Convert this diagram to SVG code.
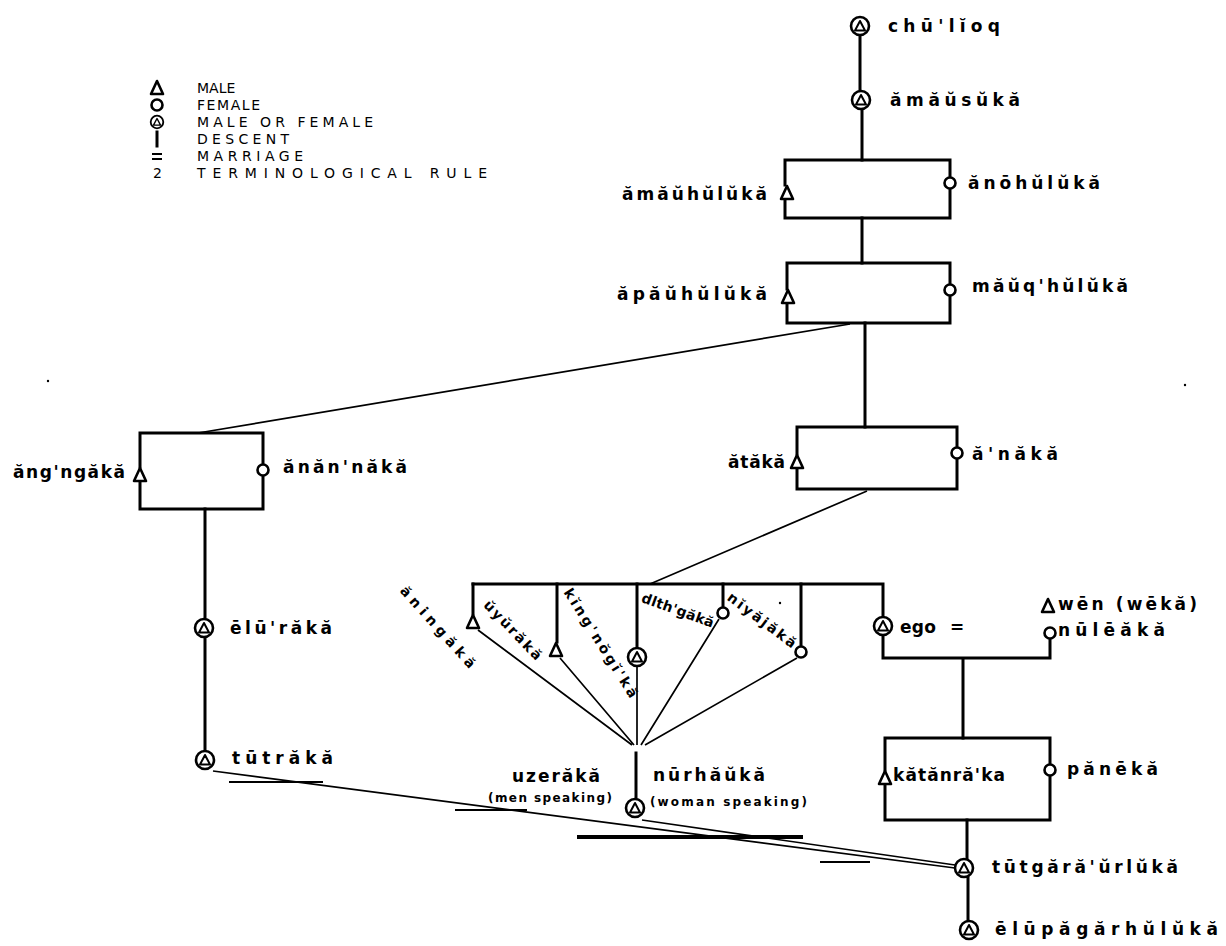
<svg xmlns="http://www.w3.org/2000/svg" width="1226" height="946" viewBox="0 0 1226 946">
<style>
.ln{stroke:#000;stroke-width:3;fill:none;stroke-linecap:square}
.th{stroke:#000;stroke-width:1.7;fill:none}
.ar{stroke:#000;fill:none}
.t{font-family:"DejaVu Sans",sans-serif;font-size:17px;font-weight:bold;fill:#000}
.s{font-family:"DejaVu Sans",sans-serif;font-size:14px;font-weight:bold;fill:#000}
.sm{font-family:"DejaVu Sans",sans-serif;font-size:12px;font-weight:bold;fill:#000}
.lg{font-family:"DejaVu Sans",sans-serif;font-size:14px;fill:#000}
</style>
<defs>
<path id="tri" d="M0,-7 L6,6 L-6,6 Z" stroke="#000" stroke-width="2.6" fill="#fff" stroke-linejoin="round"/>
<circle id="cir" r="5.5" stroke="#000" stroke-width="2.6" fill="#fff"/>
<g id="mf"><circle r="9" stroke="#000" stroke-width="2.6" fill="#fff"/><path d="M0,-5 L5,4.5 L-5,4.5 Z" fill="none" stroke="#000" stroke-width="2" stroke-linejoin="round"/></g>
</defs>
<rect width="1226" height="946" fill="#fff"/>

<g id="legend">
<use href="#tri" x="157" y="88"/>
<text class="lg" x="197" y="93">MALE</text>
<use href="#cir" x="157" y="105"/>
<text class="lg" x="197" y="110" textLength="63">FEMALE</text>
<g transform="translate(157,122) scale(0.7)"><use href="#mf"/></g>
<text class="lg" x="197" y="127" textLength="176">MALE OR FEMALE</text>
<path d="M157,132 V146" class="ln"/>
<text class="lg" x="197" y="144" textLength="92">DESCENT</text>
<path d="M152,154 H162 M152,159 H162" stroke="#000" stroke-width="2"/>
<text class="lg" x="197" y="161" textLength="106">MARRIAGE</text>
<text class="lg" x="153" y="178">2</text>
<text class="lg" x="197" y="178" textLength="290">TERMINOLOGICAL RULE</text>
</g>

<g id="connectors">
<path class="ln" d="M785,185 V160 H950 V176 M950,190 V218 H785 V201"/>
<path class="ln" d="M787,289 V263 H950 V284 M950,297 V323 H787 V305"/>
<path class="ln" d="M797,454 V427 H957 V446 M957,460 V489 H797 V470"/>
<path class="ln" d="M140,467 V433 H263 V463 M263,477 V509 H140 V483"/>
<path class="ln" d="M885,770 V738 H1050 V763 M1050,777 V820 H885 V786"/>
<path class="ln" d="M860,36 V91 M862,109 V160 M862,218 V263 M865,323 V427"/>
<path class="ln" d="M205,509 V619 M205,637 V751"/>
<path class="ln" d="M473,584 H883 V615"/>
<path class="ln" d="M473,584 V614 M557,584 V642 M637,584 V647 M723,584 V607 M801,584 V646"/>
<path class="ln" d="M883,635 V658 H1050 V639 M963,658 V738"/>
<path class="ln" d="M967,820 V859 M968,877 V921"/>
<path class="ln" d="M636,753 V799"/>
<path class="th" d="M850,324 L198,433 M867,491 L650,584"/>
<path class="th" d="M478,630 L632,745 M560,658 L634,745 M637,666 L637,745 M719,619 L641,745 M797,658 L645,745"/>
<path class="th" d="M213,771 L955,868 M642,820 L955,865"/>
<path class="ar" stroke-width="2" d="M229,782 H323 M455,810 H527 M820,862 H870"/>
<path class="ar" stroke-width="4" d="M577,837 H803"/>
</g>

<g id="n-chuliog"><use href="#mf" x="860" y="26"/><text class="t" x="888" y="32" textLength="112">chū'lĭoq</text></g>
<g id="n-amausuka"><use href="#mf" x="861" y="100"/><text class="t" x="890" y="106" textLength="130">ămăŭsŭkă</text></g>
<g id="n-amauhuluka"><use href="#tri" x="787" y="193"/><text class="t" x="622" y="200" textLength="145">ămăŭhŭlŭkă</text></g>
<g id="n-anohuluka"><use href="#cir" x="950" y="183"/><text class="t" x="968" y="189" textLength="132">ănōhŭlŭkă</text></g>
<g id="n-apauhuluka"><use href="#tri" x="788" y="297"/><text class="t" x="617" y="300" textLength="150">ăpăŭhŭlŭkă</text></g>
<g id="n-mauqhuluka"><use href="#cir" x="950" y="290"/><text class="t" x="972" y="292" textLength="156">măŭq'hŭlŭkă</text></g>
<g id="n-angngaka"><use href="#tri" x="140" y="475"/><text class="t" x="13" y="478" textLength="112">ăng'ngăkă</text></g>
<g id="n-anannaka"><use href="#cir" x="263" y="470"/><text class="t" x="283" y="473" textLength="124">ănăn'năkă</text></g>
<g id="n-ataka"><use href="#tri" x="797" y="462"/><text class="t" x="728" y="468" textLength="57">ătăkă</text></g>
<g id="n-anaka"><use href="#cir" x="957" y="453"/><text class="t" x="972" y="460" textLength="86">ă'năkă</text></g>
<g id="n-eluraka"><use href="#mf" x="204" y="628"/><text class="t" x="230" y="634" textLength="102">ēlū'răkă</text></g>
<g id="n-tutraka"><use href="#mf" x="205" y="760"/><text class="t" x="232" y="764" textLength="101">tūtrăkă</text></g>
<g id="n-aningaka"><use href="#tri" x="473" y="622"/><text class="s" transform="translate(438,627) rotate(48)" x="0" y="5" text-anchor="middle" textLength="105">ăningăkă</text></g>
<g id="n-uyuraka"><use href="#tri" x="556" y="650"/><text class="s" transform="translate(513,630) rotate(46)" x="0" y="5" text-anchor="middle" textLength="77">ŭyŭrăkă</text></g>
<g id="n-kingnogika"><use href="#mf" x="637" y="657"/><text class="s" transform="translate(601,643) rotate(58)" x="0" y="5" text-anchor="middle" textLength="126">kĭng'nŏgĭ'kă</text></g>
<g id="n-dlthgaka"><use href="#cir" x="723" y="613"/><text class="s" transform="translate(678,610) rotate(20)" x="0" y="5" text-anchor="middle" textLength="76">dlth'găkă</text></g>
<g id="n-niyajaka"><use href="#cir" x="801" y="652"/><text class="s" transform="translate(762,620) rotate(37)" x="0" y="5" text-anchor="middle" textLength="82">nĭyăjăkă</text></g>
<g id="n-ego"><use href="#mf" x="883" y="626"/><text class="t" x="900" y="633" textLength="36">ego</text><text class="t" x="950" y="633">=</text></g>
<g id="n-wen"><use href="#tri" x="1048" y="606"/><text class="t" x="1058" y="610" textLength="139">wēn (wēkă)</text></g>
<g id="n-nuleaka"><use href="#cir" x="1050" y="633"/><text class="t" x="1058" y="636" textLength="107">nūlēăkă</text></g>
<g id="n-katanraka"><use href="#tri" x="885" y="778"/><text class="t" x="893" y="781" textLength="112">kătănră'ka</text></g>
<g id="n-paneka"><use href="#cir" x="1050" y="770"/><text class="t" x="1067" y="775" textLength="91">pănēkă</text></g>
<g id="n-uzeraka"><use href="#mf" x="635" y="808"/><text class="t" x="512" y="782" textLength="88">uzerăkă</text><text class="sm" x="488" y="802" textLength="124">(men speaking)</text><text class="t" x="653" y="781" textLength="112">nūrhăŭkă</text><text class="sm" x="650" y="806" textLength="157">(woman speaking)</text></g>
<g id="n-tutgara"><use href="#mf" x="964" y="868"/><text class="t" x="992" y="873" textLength="186">tūtgără'ŭrlŭkă</text></g>
<g id="n-elupagar"><use href="#mf" x="969" y="930"/><text class="t" x="995" y="935" textLength="223">ēlūpăgărhŭlŭkă</text></g>
<g id="specks"><circle cx="1185" cy="385" r="1.2"/><circle cx="48" cy="381" r="1.2"/><circle cx="780" cy="603" r="1.2"/></g>
</svg>
